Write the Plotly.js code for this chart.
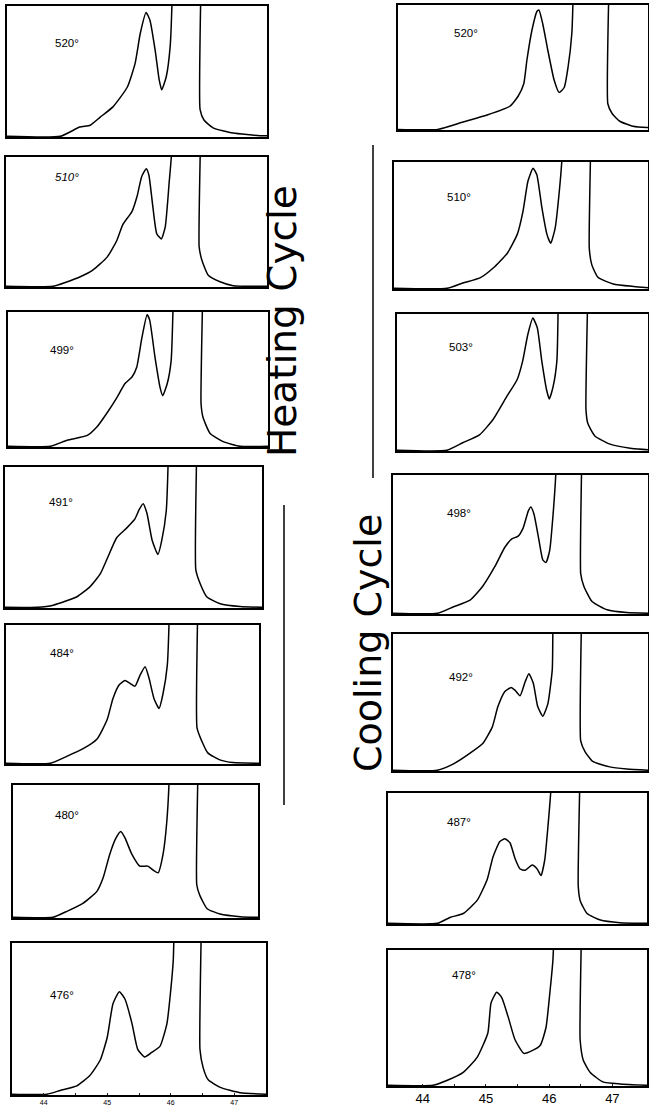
<!DOCTYPE html>
<html>
<head>
<meta charset="utf-8">
<script src="https://cdn.plot.ly/plotly-3.0.1.min.js"></script>
<style>html,body{margin:0;padding:0;background:#fff;}#chart{width:649px;height:1106px;}</style>
</head>
<body>
<div id="chart"></div>
<script>
// ---------- DATA (2-theta in degrees, relative intensity in % of panel height) ----------
const heatingLabels = ['520°', '<i>510°</i>', '499°', '491°', '484°', '480°', '476°'];
const coolingLabels = ['520°', '510°', '503°', '498°', '492°', '487°', '478°'];
const tickVals = [44, 44.5, 45, 45.5, 46, 46.5, 47];
const tickText = ['44', '', '45', '', '46', '', '47'];

// Heating cycle
const h520_x = [43.5, 44.32, 44.62, 44.78, 44.93, 45.13, 45.35, 45.47, 45.55, 45.64, 45.70, 45.78, 45.84, 45.88, 45.95, 46.01, 46.04, 46.14, 46.45, 46.47, 46.53, 46.67, 46.98, 47.39, 47.5];
const h520_y = [0.5, 0.5, 7.6, 9, 15, 23, 38, 56, 79, 95, 89, 66, 44, 36, 46, 69, 105, 400, 400, 21, 13, 7, 3, 1, 1];
const h510_x = [43.5, 44.22, 44.43, 44.63, 44.83, 45.05, 45.20, 45.29, 45.43, 45.51, 45.58, 45.65, 45.69, 45.75, 45.81, 45.88, 45.94, 46.00, 46.04, 46.14, 46.45, 46.46, 46.50, 46.60, 46.78, 46.98, 47.44, 47.5];
const h510_y = [0.5, 0.5, 3.9, 7.7, 13, 23, 36, 48, 58, 70, 85, 91, 86, 62, 41, 37, 46, 80, 105, 400, 400, 31, 21, 9, 4, 1, 0.5, 0.5];
const h499_x = [43.5, 44.15, 44.41, 44.72, 44.87, 45.02, 45.18, 45.30, 45.41, 45.48, 45.56, 45.64, 45.68, 45.76, 45.84, 45.88, 45.95, 46.01, 46.04, 46.14, 46.46, 46.47, 46.50, 46.61, 46.81, 47.07, 47.5];
const h499_y = [0.5, 0.5, 5, 8.6, 15, 25, 37, 47, 52, 59, 81, 98, 94, 67, 44, 38, 47, 64, 105, 400, 400, 32, 22, 10, 4, 0.5, 0.5];
const h491_x = [43.5, 44.00, 44.25, 44.62, 44.82, 44.98, 45.10, 45.24, 45.40, 45.52, 45.59, 45.65, 45.71, 45.79, 45.88, 45.94, 46.01, 46.04, 46.14, 46.46, 46.47, 46.54, 46.64, 46.85, 47.16, 47.5];
const h491_y = [0.5, 0.5, 2, 8, 15, 24, 36, 50, 57, 63, 70, 74, 67, 48, 38, 48, 69, 105, 400, 400, 27, 17, 8, 3, 1, 0.5];
const h484_x = [43.5, 44.20, 44.46, 44.72, 44.94, 45.10, 45.19, 45.29, 45.38, 45.46, 45.54, 45.62, 45.70, 45.76, 45.84, 45.92, 45.98, 46.05, 46.08, 46.18, 46.51, 46.52, 46.60, 46.69, 46.88, 47.09, 47.5];
const h484_y = [0.5, 0.5, 5.5, 11, 18, 32, 47, 57, 60, 58, 56, 64, 70, 62, 47, 40, 50, 71, 105, 400, 400, 26, 16, 8, 3, 1, 0.5];
const h480_x = [43.5, 44.15, 44.38, 44.64, 44.87, 44.97, 45.08, 45.18, 45.26, 45.33, 45.44, 45.57, 45.70, 45.79, 45.87, 45.95, 46.01, 46.05, 46.15, 46.49, 46.50, 46.55, 46.67, 46.88, 47.21, 47.5];
const h480_y = [0.5, 0.5, 5, 11, 20, 30, 48, 60, 65, 60, 48, 39, 39, 36, 34, 48, 72, 105, 400, 400, 25, 17, 7, 3, 1, 0.5];
const h476_x = [43.5, 44.05, 44.26, 44.52, 44.73, 44.89, 45.00, 45.09, 45.19, 45.28, 45.39, 45.48, 45.59, 45.70, 45.83, 45.94, 46.00, 46.04, 46.05, 46.15, 46.45, 46.46, 46.51, 46.59, 46.78, 47.09, 47.5];
const h476_y = [0.5, 0.5, 3, 6, 13, 23, 38, 60, 68, 63, 47, 30, 25, 28, 32, 47, 69, 89, 105, 400, 400, 30, 18, 10, 5, 1.5, 0.5];

// Cooling cycle
const c520_x = [43.45, 44.08, 44.48, 44.86, 45.22, 45.35, 45.44, 45.49, 45.57, 45.65, 45.68, 45.74, 45.82, 45.92, 46.00, 46.08, 46.14, 46.20, 46.22, 46.32, 46.76, 46.77, 46.84, 46.96, 47.17, 47.39, 47.45];
const c520_y = [0.5, 0.5, 6.4, 12, 19, 27, 37, 56, 80, 95, 96, 85, 64, 40, 30, 34, 50, 77, 105, 400, 400, 21, 13, 7, 3, 2, 2];
const c510_x = [43.45, 44.29, 44.54, 44.81, 45.02, 45.24, 45.40, 45.49, 45.57, 45.65, 45.71, 45.79, 45.87, 45.93, 46.00, 46.06, 46.11, 46.21, 46.53, 46.54, 46.58, 46.68, 46.92, 47.24, 47.47, 47.5];
const c510_y = [0.5, 0.5, 4.7, 8.7, 16.5, 28, 43, 61, 85, 95, 90, 64, 43, 36, 48, 74, 105, 400, 400, 32, 19, 9, 4, 2, 1, 1];
const c503_x = [43.45, 44.24, 44.49, 44.76, 44.97, 45.19, 45.35, 45.44, 45.52, 45.60, 45.67, 45.74, 45.82, 45.86, 45.92, 45.98, 46.00, 46.10, 46.43, 46.44, 46.47, 46.58, 46.82, 47.14, 47.42, 47.5];
const c503_y = [0.5, 0.5, 6, 12, 23, 40, 52, 66, 85, 97, 90, 66, 44, 38, 47, 66, 105, 400, 400, 30, 20, 11, 5, 2, 1, 1];
const c498_x = [43.45, 44.15, 44.40, 44.67, 44.87, 45.06, 45.22, 45.33, 45.43, 45.51, 45.59, 45.63, 45.68, 45.76, 45.82, 45.87, 45.93, 45.98, 46.03, 46.13, 46.41, 46.42, 46.47, 46.60, 46.84, 47.15, 47.5];
const c498_y = [0.5, 0.5, 5, 10, 20, 34, 48, 54, 56, 62, 74, 77, 72, 53, 39, 37, 46, 70, 105, 400, 400, 29, 20, 9, 3, 1, 0.5];
const c492_x = [43.45, 44.15, 44.40, 44.67, 44.87, 45.02, 45.11, 45.22, 45.32, 45.38, 45.46, 45.54, 45.60, 45.67, 45.74, 45.82, 45.90, 45.97, 45.98, 46.08, 46.41, 46.42, 46.49, 46.61, 46.88, 47.15, 47.5];
const c492_y = [0.5, 0.5, 5, 13, 20, 32, 47, 58, 61, 59, 55, 65, 71, 64, 47, 40, 49, 74, 105, 400, 400, 22, 14, 7, 3, 1.5, 0.5];
const c487_x = [43.45, 44.23, 44.43, 44.64, 44.86, 45.02, 45.11, 45.22, 45.30, 45.38, 45.46, 45.54, 45.62, 45.73, 45.81, 45.87, 45.93, 45.98, 46.03, 46.13, 46.45, 46.46, 46.49, 46.60, 46.81, 47.12, 47.55];
const c487_y = [0.5, 0.5, 5, 8, 18, 34, 51, 63, 65, 62, 50, 42, 41, 45, 42, 37, 49, 74, 105, 400, 400, 29, 18, 8, 3, 1, 0.5];
const c478_x = [43.45, 44.16, 44.38, 44.64, 44.86, 45.03, 45.08, 45.17, 45.25, 45.35, 45.46, 45.60, 45.73, 45.86, 45.95, 46.01, 46.06, 46.07, 46.17, 46.48, 46.49, 46.54, 46.65, 46.85, 47.12, 47.55];
const c478_y = [0.5, 0.5, 4, 10, 21, 39, 61, 69, 65, 51, 34, 24, 26, 30, 43, 68, 93, 105, 400, 400, 34, 19, 10, 3, 1.5, 0.5];

const heatingData = [[h520_x, h520_y], [h510_x, h510_y], [h499_x, h499_y], [h491_x, h491_y], [h484_x, h484_y], [h480_x, h480_y], [h476_x, h476_y]];
const coolingData = [[c520_x, c520_y], [c510_x, c510_y], [c503_x, c503_y], [c498_x, c498_y], [c492_x, c492_y], [c487_x, c487_y], [c478_x, c478_y]];

// ---------- LAYOUT GEOMETRY (pixels: left, right, top, bottom) ----------
const W = 649, H = 1106;
const leftBoxes = [[7,267,6,137],[6,267,157,287],[8,268,312,447],[5,262,467,608],[6,259,625,764],[13,258,785,918],[12,266,943,1095]];
const rightBoxes = [[398,648,5,130],[394,648,162,289],[397,648,314,451],[393,648,475,614],[393,648,634,771],[388,647,793,924],[388,647,950,1086]];
const leftLabelPos = [[53,43],[53,177],[48,350],[47,502],[48,653],[53,815],[48,995]];
const rightLabelPos = [[452,33],[445,197],[447,347],[445,513],[447,677],[445,822],[450,975]];

const traces = [];
const layout = {
  width: W, height: H,
  margin: {l:0, r:0, t:0, b:0},
  paper_bgcolor: '#fff', plot_bgcolor: '#fff',
  showlegend: false,
  font: {family: 'Liberation Sans, Arial, sans-serif', color: '#000'},
  annotations: [], shapes: []
};

function addPanel(idx, data, box, range, label, lpos, bottom, tickSize) {
  const n = idx + 1;
  const xa = n === 1 ? 'x' : 'x' + n;
  const ya = n === 1 ? 'y' : 'y' + n;
  traces.push({x: data[0], y: data[1], xaxis: xa, yaxis: ya, type: 'scatter', mode: 'lines',
    line: {color: '#000', width: 1.5, shape: 'spline', smoothing: 0.5}, hoverinfo: 'skip'});
  const xk = n === 1 ? 'xaxis' : 'xaxis' + n;
  const yk = n === 1 ? 'yaxis' : 'yaxis' + n;
  layout[xk] = {domain: [box[0]/W, box[1]/W], range: range, anchor: ya,
    showline: true, linecolor: '#000', linewidth: 1.8, mirror: true,
    showgrid: false, zeroline: false, ticks: bottom ? 'inside' : '', ticklen: 2, tickwidth: 1, tickcolor: '#222',
    tickmode: 'array', tickvals: tickVals, ticktext: tickText,
    showticklabels: bottom, tickfont: {size: tickSize, color: '#000', family: 'Liberation Sans, Arial, sans-serif'},
    fixedrange: true};
  layout[yk] = {domain: [1 - box[3]/H, 1 - box[2]/H], range: [0, 100], anchor: xa,
    showline: true, linecolor: '#000', linewidth: 1.8, mirror: true,
    showgrid: false, zeroline: false, ticks: '', showticklabels: false, fixedrange: true};
  layout.annotations.push({xref: 'paper', yref: 'paper', x: lpos[0]/W, y: 1 - lpos[1]/H,
    xanchor: 'left', yanchor: 'middle', text: label, showarrow: false,
    font: {size: 11.5, color: '#000', family: 'Liberation Sans, Arial, sans-serif'}});
}

for (let i = 0; i < 7; i++) {
  addPanel(i, heatingData[i], leftBoxes[i], [43.5, 47.5], heatingLabels[i], leftLabelPos[i], i === 6, 7);
}
const pxPerDeg = 63.2;
for (let i = 0; i < 7; i++) {
  const b = rightBoxes[i];
  addPanel(7 + i, coolingData[i], b, [43.45, 43.45 + (b[1] - b[0]) / pxPerDeg], coolingLabels[i], rightLabelPos[i], i === 6, 13);
}

// Cycle titles
layout.annotations.push({xref: 'paper', yref: 'paper', x: 282/W, y: 1 - 321/H, xanchor: 'center', yanchor: 'middle',
  text: 'Heating Cycle', textangle: -90, showarrow: false, font: {size: 39, family: 'DejaVu Sans, sans-serif', color: '#000'}});
layout.annotations.push({xref: 'paper', yref: 'paper', x: 368/W, y: 1 - 643/H, xanchor: 'center', yanchor: 'middle',
  text: 'Cooling Cycle', textangle: -90, showarrow: false, font: {size: 38, family: 'DejaVu Sans, sans-serif', color: '#000'}});

// bracket lines
layout.shapes.push({type: 'line', xref: 'paper', yref: 'paper', x0: 284/W, x1: 284/W, y0: 1 - 505/H, y1: 1 - 805/H, line: {color: '#000', width: 1.5}});
layout.shapes.push({type: 'line', xref: 'paper', yref: 'paper', x0: 373/W, x1: 373/W, y0: 1 - 145/H, y1: 1 - 478/H, line: {color: '#000', width: 1.5}});

Plotly.newPlot('chart', traces, layout, {staticPlot: true, displayModeBar: false});
</script>
</body>
</html>
